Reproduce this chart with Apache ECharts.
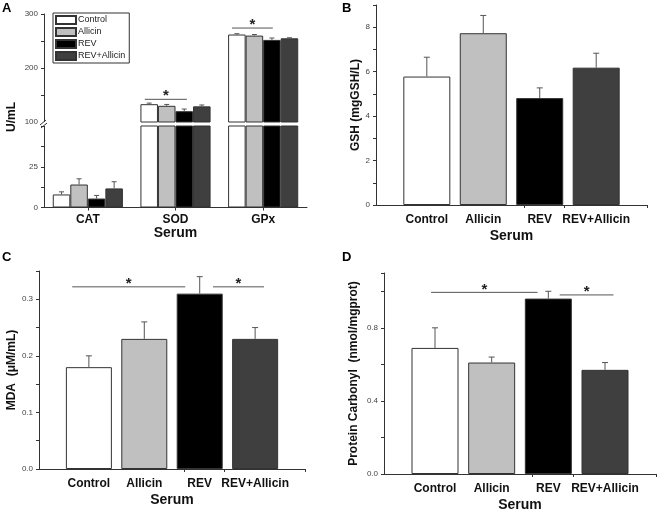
<!DOCTYPE html>
<html><head><meta charset="utf-8">
<script src="https://cdn.jsdelivr.net/npm/echarts@6/dist/echarts.min.js"></script>
<style>html,body{margin:0;padding:0;background:#fff}#c{width:661px;height:513px}</style>
</head><body><div id="c"></div>
<script>
// ---------- data ----------
const groups = ['Control', 'Allicin', 'REV', 'REV+Allicin'];
const colors = ['#ffffff', '#c0c0c0', '#000000', '#3f3f3f'];

// Panel A (U/mL), categories CAT, SOD, GPx
const aCats = ['CAT', 'SOD', 'GPx'];
const aControl = [8.0, 133, 262];
const aControlSd = [1.6, 2, 1.5];
const aAllicin = [14.1, 130, 260];
const aAllicinSd = [3.5, 2.5, 2];
const aRev = [5.5, 120, 252];
const aRevSd = [1.9, 4, 3.5];
const aRevAllicin = [11.7, 129, 255];
const aRevAllicinSd = [4.1, 2.5, 1];
// significance: [category index, value, start (fraction of band), end (fraction of band)]
const aSig = [[1, 142, -0.35, 0.13], [2, 274, -0.355, 0.11]];

// Panel B GSH (mgGSH/L)
const gsh = [5.78, 7.73, 4.81, 6.18];
const gshSd = [0.87, 0.8, 0.46, 0.65];
// Panel C MDA (uM/mL)
const mda = [0.18, 0.23, 0.31, 0.23];
const mdaSd = [0.02, 0.03, 0.03, 0.02];
const mdaSig = [[0.7, 2.74, 0.322], [3.24, 4.16, 0.322]];
// Panel D Protein carbonyl (nmol/mgprot)
const pc = [0.69, 0.61, 0.96, 0.57];
const pcSd = [0.11, 0.03, 0.04, 0.04];
const pcSig = [[0.93, 2.81, 0.994], [3.2, 4.15, 0.98]];

const xTicks = [2.72, 3.44, 4.9];

// ---------- helpers ----------
const FONT = 'Arial, "Liberation Sans", sans-serif';
const axisLine = { show: true, lineStyle: { color: '#333', width: 1 } };
const axisTick = { show: true, length: 3, lineStyle: { color: '#333', width: 1 } };
const yLabel = { fontSize: 8, color: '#444', fontFamily: FONT, margin: 6 };
const catLabel = { fontSize: 12, fontWeight: 'bold', color: '#111', fontFamily: FONT };
const serumName = { fontSize: 14, fontWeight: 'bold', color: '#111', fontFamily: FONT };
const yName = { fontSize: 12, fontWeight: 'bold', color: '#111', fontFamily: FONT };

function errLine(p0, p1, cap) {
  return { type: 'group', children: [
    { type: 'line', shape: { x1: p0[0], y1: p0[1], x2: p1[0], y2: p1[1] }, style: { stroke: '#555', lineWidth: 1 } },
    { type: 'line', shape: { x1: p1[0] - cap, y1: p1[1], x2: p1[0] + cap, y2: p1[1] }, style: { stroke: '#555', lineWidth: 1 } }
  ]};
}
function errRenderVal(params, api) {
  const x = api.value(0), m = api.value(1), s = api.value(2);
  return errLine(api.coord([x, m]), api.coord([x, m + s]), 3);
}
function errRenderCat(params, api) {
  const c = api.value(0), g = api.value(1), m = api.value(2), s = api.value(3);
  const bw = api.size([1, 0])[0];
  const off = (g - 1.5) * 0.2 * bw;
  const p0 = api.coord([c, m]), p1 = api.coord([c, m + s]);
  p0[0] += off; p1[0] += off;
  return errLine(p0, p1, 2.5);
}
function sigShape(x1, x2, y) {
  return { type: 'group', children: [
    { type: 'line', shape: { x1: x1, y1: y, x2: x2, y2: y }, style: { stroke: '#555', lineWidth: 1 } },
    { type: 'text', style: { text: '*', x: (x1 + x2) / 2, y: y - 3, align: 'center', verticalAlign: 'middle', font: 'bold 15px ' + FONT, fill: '#222' } }
  ]};
}
function sigRenderVal(params, api) {
  const p1 = api.coord([api.value(0), api.value(2)]);
  const p2 = api.coord([api.value(1), api.value(2)]);
  return sigShape(p1[0], p2[0], p1[1]);
}
function sigRenderCat(params, api) {
  const bw = api.size([1, 0])[0];
  const p = api.coord([api.value(0), api.value(1)]);
  return sigShape(p[0] + api.value(2) * bw, p[0] + api.value(3) * bw, p[1]);
}
function breakRender(params, api) {
  const cs = params.coordSys;
  const y = api.coord([0, 50])[1] - 2;
  const x = cs.x;
  const st = { stroke: '#333', lineWidth: 1 };
  return { type: 'group', children: [
    { type: 'rect', shape: { x: x - 4, y: y - 2, width: 8, height: 4 }, style: { fill: '#fff' } },
    { type: 'line', shape: { x1: x - 4, y1: y + 1, x2: x + 2, y2: y - 4 }, style: st },
    { type: 'line', shape: { x1: x - 3, y1: y + 4, x2: x + 3, y2: y - 1 }, style: st }
  ]};
}

// ---------- option ----------
const aMeans = [aControl, aAllicin, aRev, aRevAllicin];
const aSds = [aControlSd, aAllicinSd, aRevSd, aRevAllicinSd];

const series = [];
[0, 1].forEach(function (gi) {
  groups.forEach(function (name, i) {
    series.push({
      type: 'bar', name: name, xAxisIndex: gi, yAxisIndex: gi, data: aMeans[i],
      barGap: '0%', barCategoryGap: '20%', clip: true,
      itemStyle: { color: colors[i], borderColor: '#333', borderWidth: 1 },
      emphasis: { disabled: true }
    });
  });
  const ed = [];
  aCats.forEach(function (c, ci) { groups.forEach(function (g, i) { ed.push([ci, i, aMeans[i][ci], aSds[i][ci]]); }); });
  series.push({ type: 'custom', name: 'errA' + gi, xAxisIndex: gi, yAxisIndex: gi, clip: true, z: 5,
    data: ed, encode: { x: 0, y: 2 }, renderItem: errRenderCat, silent: true });
});
series.push({ type: 'custom', name: 'sigA', xAxisIndex: 0, yAxisIndex: 0, z: 5, data: aSig,
  encode: { x: 0, y: 1 }, renderItem: sigRenderCat, silent: true });
series.push({ type: 'custom', name: 'breakA', xAxisIndex: 1, yAxisIndex: 1, z: 6, data: [[0, 50]],
  encode: { x: 0, y: 1 }, renderItem: breakRender, silent: true });

const panels = [
  { vals: gsh, sd: gshSd, sig: null, idx: 2, bw: 47 },
  { vals: mda, sd: mdaSd, sig: mdaSig, idx: 3, bw: 46 },
  { vals: pc, sd: pcSd, sig: pcSig, idx: 4, bw: 47 }
];
panels.forEach(function (p) {
  series.push({
    type: 'bar', name: 'bars' + p.idx, xAxisIndex: p.idx, yAxisIndex: p.idx, barWidth: p.bw,
    data: p.vals.map(function (v, i) { return { value: [i + 1, v], itemStyle: { color: colors[i] } }; }),
    itemStyle: { borderColor: '#333', borderWidth: 1 }, emphasis: { disabled: true }
  });
  series.push({ type: 'custom', name: 'err' + p.idx, xAxisIndex: p.idx, yAxisIndex: p.idx, z: 5,
    data: p.vals.map(function (v, i) { return [i + 1, v, p.sd[i]]; }),
    encode: { x: 0, y: 1 }, renderItem: errRenderVal, silent: true });
  if (p.sig) series.push({ type: 'custom', name: 'sig' + p.idx, xAxisIndex: p.idx, yAxisIndex: p.idx, z: 5,
    data: p.sig, encode: { x: [0, 1], y: 2 }, renderItem: sigRenderVal, silent: true });
});

function valX(gi) {
  return {
    type: 'value', gridIndex: gi, min: 0.1, max: 4.9, splitLine: { show: false },
    axisLine: axisLine,
    axisTick: Object.assign({}, axisTick, { customValues: xTicks }),
    axisLabel: Object.assign({}, catLabel, { margin: 9, customValues: [1, 2, 3, 4],
      formatter: function (v) { return groups[Math.round(v) - 1]; } }),
    name: 'Serum', nameLocation: 'middle', nameGap: 24, nameTextStyle: serumName
  };
}
function valY(gi, min, max, interval, fmt, name, gap) {
  return {
    type: 'value', gridIndex: gi, min: min, max: max, interval: interval,
    splitLine: { show: false }, axisLine: axisLine, axisTick: axisTick,
    axisLabel: Object.assign({}, yLabel, { formatter: fmt }),
    name: name, nameLocation: 'middle', nameGap: gap, nameTextStyle: yName
  };
}
function near(v, step) { return Math.abs(v / step - Math.round(v / step)) < 1e-6; }

const option = {
  backgroundColor: '#fff',
  animation: false,
  textStyle: { fontFamily: FONT },
  title: [
    { text: 'A', left: 2, top: 2, padding: 0, textStyle: { fontSize: 13, fontWeight: 'bold', color: '#000' } },
    { text: 'B', left: 342, top: 2, padding: 0, textStyle: { fontSize: 13, fontWeight: 'bold', color: '#000' } },
    { text: 'C', left: 2, top: 251, padding: 0, textStyle: { fontSize: 13, fontWeight: 'bold', color: '#000' } },
    { text: 'D', left: 342, top: 251, padding: 0, textStyle: { fontSize: 13, fontWeight: 'bold', color: '#000' } }
  ],
  legend: {
    data: groups, orient: 'vertical', left: 53, top: 13, selectedMode: false,
    itemWidth: 20, itemHeight: 8, itemGap: 2, padding: [2, 4, 2, 2],
    borderColor: '#333', borderWidth: 1, icon: 'rect',
    textStyle: { fontSize: 9, color: '#222', fontFamily: FONT, padding: [0, 0, 0, -3] }
  },
  grid: [
    { left: 44, top: 14, width: 263, height: 108 },
    { left: 44, top: 126, width: 263, height: 81.5 },
    { left: 376, top: 5, width: 271, height: 200 },
    { left: 39, top: 271, width: 266, height: 198 },
    { left: 384, top: 273, width: 272, height: 204 }
  ],
  xAxis: [
    { type: 'category', gridIndex: 0, data: aCats, show: false },
    { type: 'category', gridIndex: 1, data: aCats, axisLine: axisLine,
      axisTick: Object.assign({}, axisTick, { alignWithLabel: true }),
      axisLabel: Object.assign({}, catLabel, { margin: 6 }),
      name: 'Serum', nameLocation: 'middle', nameGap: 17, nameTextStyle: serumName },
    valX(2), valX(3), valX(4)
  ],
  yAxis: [
    valY(0, 100, 300, 50, function (v) { return near(v, 100) ? String(v) : ''; }, '', 0),
    valY(1, 0, 50, 12.5, function (v) { return (v === 0 || v === 25) ? String(v) : ''; }, '', 0),
    valY(2, 0, 9, 1, function (v) { return near(v, 2) && v < 9 ? String(v) : ''; }, 'GSH (mgGSH/L)', 11),
    valY(3, 0, 0.35, 0.05, function (v) { return near(v, 0.1) && v < 0.34 ? v.toFixed(1) : ''; }, 'MDA  (\u03bcM/mL)', 21),
    valY(4, 0, 1.1, 0.2, function (v) { return near(v, 0.4) && v < 1 ? v.toFixed(1) : ''; }, 'Protein Carbonyl  (nmol/mgprot)', 24)
  ],
  graphic: [
    { type: 'text', x: 12, y: 117, rotation: Math.PI / 2,
      style: { text: 'U/mL', align: 'center', verticalAlign: 'middle', font: 'bold 12px ' + FONT, fill: '#111' } }
  ],
  series: series
};

const chart = echarts.init(document.getElementById('c'), null, { renderer: 'canvas' });
chart.setOption(option);
</script>
</body></html>
